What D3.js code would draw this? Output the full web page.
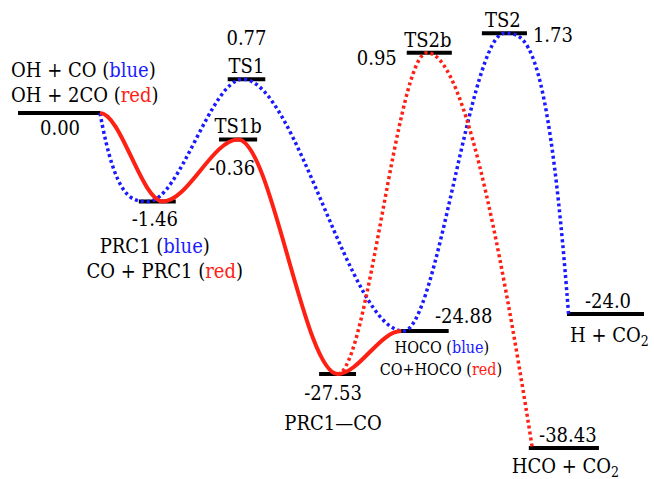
<!DOCTYPE html>
<html>
<head>
<meta charset="utf-8">
<script src="https://cdn.jsdelivr.net/npm/d3@7"></script>
<style>
body { margin: 0; background: #fff; }
svg text { font-family: "DejaVu Serif Condensed", "DejaVu Serif", serif; font-stretch: condensed; }
</style>
</head>
<body>
<svg id="chart" width="654" height="479"></svg>
<script>
// states along the reaction path
var states = ["R", "PRC1", "TS1", "TS1b", "PRC1CO", "HOCO", "TS2b", "TS2", "HCO2", "HCOCO2"];
var energyLabels = ["0.00", "-1.46", "0.77", "-0.36", "-27.53", "-24.88", "0.95", "1.73", "-24.0", "-38.43"];
// schematic height of each level (the diagram is not drawn to scale)
var drawnLevel = [0, -2.64, 1.01, -0.79, -7.79, -6.51, 1.80, 2.38, -6.0, -10];
// extent of each level along the reaction coordinate
var coordStart = [0, 1.93, 3.35, 3.21, 4.81, 6.12, 6.21, 7.41, 8.77, 8.16];
var coordEnd = [1.31, 2.52, 3.95, 3.82, 5.40, 6.88, 6.93, 8.13, 10, 9.28];

// pathways: [state, where the curve meets the level (0 = left end, 1 = right end)]
var bluePath = [["R", 1], ["PRC1", 0.25], ["TS1", 0.4], ["HOCO", 0.05], ["TS2", 0.5], ["HCO2", 0.02]];
var redPath = [["R", 1], ["PRC1", 0.65], ["TS1b", 0.5], ["PRC1CO", 0.5], ["HOCO", 0]];
var redDotPath = [["PRC1CO", 0.5], ["TS2b", 0.45], ["HCOCO2", 0.05]];

var BLUE = "#1a1aff";
var RED = "#ff2014";
var SIZE = 20;

var svg = d3.select("#chart");

var x = d3.scaleLinear().domain([0, 10]).range([18, 644]);
var y = d3.scaleLinear().domain([0, -10]).range([113, 448]);

function idx(name) { return states.indexOf(name); }
function cx(name) { var i = idx(name); return x((coordStart[i] + coordEnd[i]) / 2); }
function ly(name) { return y(drawnLevel[idx(name)]); }

// curve points from the pathway definitions
function pathPoints(path) {
    return path.map(function (p) {
        var i = idx(p[0]);
        return [x(coordStart[i] + p[1] * (coordEnd[i] - coordStart[i])), y(drawnLevel[i])];
    });
}

// smooth path: flat at every stationary point, ends slope set by k0 / k1
function smoothPath(pts, k0, k1) {
    var p = d3.path();
    p.moveTo(pts[0][0], pts[0][1]);
    for (var i = 0; i < pts.length - 1; i++) {
        var a = pts[i], b = pts[i + 1];
        var h = b[0] - a[0];
        var sec = (b[1] - a[1]) / h;
        var m0 = (i == 0) ? k0 * sec : 0;
        var m1 = (i == pts.length - 2) ? k1 * sec : 0;
        p.bezierCurveTo(a[0] + h / 3, a[1] + m0 * h / 3, b[0] - h / 3, b[1] - m1 * h / 3, b[0], b[1]);
    }
    return p.toString();
}

// energy levels
svg.append("g")
    .selectAll("line")
    .data(states)
    .enter()
    .append("line")
    .attr("x1", function (d, i) { return x(coordStart[i]); })
    .attr("x2", function (d, i) { return x(coordEnd[i]); })
    .attr("y1", function (d, i) { return y(drawnLevel[i]); })
    .attr("y2", function (d, i) { return y(drawnLevel[i]); })
    .attr("stroke", "black")
    .attr("stroke-width", 4);

// pathways
svg.append("path")
    .attr("d", smoothPath(pathPoints(bluePath), 3, 3))
    .attr("fill", "none")
    .attr("stroke", BLUE)
    .attr("stroke-width", 3.5)
    .attr("stroke-dasharray", "3,3");

svg.append("path")
    .attr("d", smoothPath(pathPoints(redPath), 0, 0))
    .attr("fill", "none")
    .attr("stroke", RED)
    .attr("stroke-width", 4);

svg.append("path")
    .attr("d", smoothPath(pathPoints(redDotPath), 0, 1.7))
    .attr("fill", "none")
    .attr("stroke", RED)
    .attr("stroke-width", 3.5)
    .attr("stroke-dasharray", "3,3");

// text helper: parts are [text, colour, subscript?]
function label(name, dx, dy, parts, anchor, size) {
    size = size || SIZE;
    var t = svg.append("text")
        .attr("x", cx(name) + dx)
        .attr("y", ly(name) + dy)
        .attr("text-anchor", anchor || "middle")
        .attr("font-size", size)
        .attr("fill", "black");
    if (typeof parts == "string") parts = [[parts]];
    parts.forEach(function (p) {
        var s = t.append("tspan").text(p[0]).attr("fill", p[1] || "black");
        if (p[2]) {
            s.attr("font-size", size * 0.7).attr("dy", 4);
        }
    });
}

function energy(name, dx, dy, anchor) {
    label(name, dx, dy, energyLabels[idx(name)], anchor);
}

// reactants
energy("R", 1, 22);
label("R", -48, -36, [["OH + CO ("], ["blue", BLUE], [")"]], "start");
label("R", -48, -11, [["OH + 2CO ("], ["red", RED], [")"]], "start");

// PRC1
energy("PRC1", -2.5, 24.5);
label("PRC1", -2.5, 51.5, [["PRC1 ("], ["blue", BLUE], [")"]]);
label("PRC1", 7.5, 76.5, [["CO + PRC1 ("], ["red", RED], [")"]]);

// TS1 / TS1b
label("TS1", 0, -6, "TS1");
energy("TS1", 0, -34);
label("TS1b", 0, -6.5, "TS1b");
energy("TS1b", -6, 35.5);

// PRC1-CO
energy("PRC1CO", -4.5, 26);
label("PRC1CO", -4.5, 56, "PRC1\u2014CO");

// HOCO
energy("HOCO", 10, -8, "start");
label("HOCO", 17, 22, [["HOCO ("], ["blue", BLUE], [")"]], "middle", 16);
label("HOCO", 16, 44, [["CO+HOCO ("], ["red", RED], [")"]], "middle", 16);

// TS2b / TS2
label("TS2b", -1.5, -5.7, "TS2b");
energy("TS2b", -32.5, 12.3, "end");
label("TS2", -1.5, -6.3, "TS2");
energy("TS2", 28.5, 8.7, "start");

// products
energy("HCO2", 2.5, -6);
label("HCO2", -35.5, 28, [["H + CO"], ["2", "black", true]], "start");
energy("HCOCO2", 4, -6);
label("HCOCO2", -52, 25, [["HCO + CO"], ["2", "black", true]], "start");
</script>
</body>
</html>
